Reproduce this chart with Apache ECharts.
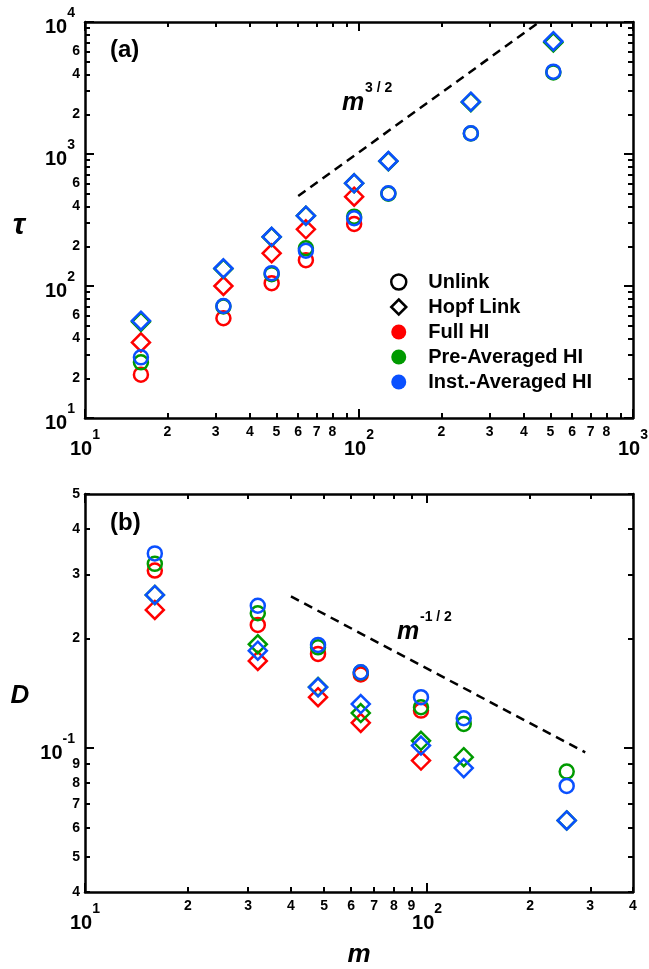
<!DOCTYPE html>
<html><head><meta charset="utf-8">
<script src="https://cdn.jsdelivr.net/npm/echarts@6/dist/echarts.min.js"></script>
<style>html,body{margin:0;padding:0;background:#fff}#c{width:649px;height:969px}</style>
</head><body><div id="c"></div>
<script>
// ---------- data ----------
const mValues = [16, 32, 48, 64, 96, 128, 256, 512];
// panel (a): relaxation time tau
const tauFullUnlink = [21.3, 57, 105, 157, 295, null, null, null];
const tauFullHopf   = [37.4, 100, 177, 269, 475, null, null, null];
const tauPreUnlink  = [26.4, 70, 123, 193, 335, 500, 1430, 4150];
const tauPreHopf    = [53.5, 135, 235, 340, 600, 880, 2470, 7000];
const tauInstUnlink = [28.8, 70.5, 125, 185, 326, 504, 1435, 4205];
const tauInstHopf   = [54.6, 136, 236, 341, 600, 885, 2490, 7150];
// panel (b): diffusion D
const dFullUnlink = [0.3076, 0.2178, 0.1812, 0.159, 0.1265, null, null, null];
const dFullHopf   = [0.2395, 0.1734, 0.1377, 0.117, 0.0921, null, null, null];
const dPreUnlink  = [0.321, 0.2346, 0.189, 0.161, 0.1292, 0.1162, 0.0859, null];
const dPreHopf    = [0.2635, 0.1927, 0.147, 0.1245, 0.1044, 0.0941, 0.063, null];
const dInstUnlink = [0.343, 0.246, 0.1919, 0.1613, 0.1377, 0.1205, 0.0784, null];
const dInstHopf   = [0.2635, 0.185, 0.1466, 0.1318, 0.1013, 0.0878, 0.063, null];
// guide lines (scaling laws)
const slopeA_m = [60, 455], slopeA_tau = [480, 9990];
const slopeB_m = [40, 290], slopeB_D = [0.261, 0.097];
// axis ranges and ticks (raw values)
const xA_range = [10, 1000], xA_major = [10, 100, 1000];
const xA_minor = [20,30,40,50,60,70,80,90,200,300,400,500,600,700,800,900];
const xA_labels = [20,30,40,50,60,70,80,200,300,400,500,600,700,800];
const yA_range = [10, 10000], yA_major = [10, 100, 1000, 10000];
const yA_minor = [20,30,40,50,60,70,80,90,200,300,400,500,600,700,800,900,2000,3000,4000,5000,6000,7000,8000,9000];
const yA_labels = [20,40,60,200,400,600,2000,4000,6000];
const xB_range = [10, 400], xB_major = [10, 100];
const xB_minor = [20,30,40,50,60,70,80,90,200,300,400];
const xB_labels = [20,30,40,50,60,70,80,90,200,300,400];
const yB_range = [0.04, 0.5], yB_major = [0.1];
const yB_minor = [0.04,0.05,0.06,0.07,0.08,0.09,0.2,0.3,0.4,0.5];
const yB_labels = [0.04,0.05,0.06,0.07,0.08,0.09,0.2,0.3,0.4,0.5];
const legendNames = ['Unlink', 'Hopf Link', 'Full HI', 'Pre-Averaged HI', 'Inst.-Averaged HI'];

// ---------- helpers ----------
const L = Math.log10;
const FONT = "'Liberation Sans', Arial, sans-serif";
const RED = '#ff0000', GREEN = '#009a00', BLUE = '#0a50ff';
function minorFmt(v){ const e = Math.floor(v + 1e-9); return String(Math.round(Math.pow(10, v - e))); }
function majorFmt(v){ return '{b|10}{s|' + Math.round(v) + '}'; }

function makeAxes(isX, grid, range, majors, minors, labels, extra) {
  const main = isX ? 'bottom' : 'left', opp = isX ? 'top' : 'right';
  const base = {type:'value', gridIndex:grid, min:L(range[0]), max:L(range[1]), splitLine:{show:false}};
  const line = {show:true, onZero:false, lineStyle:{color:'#000', width:2.5}};
  const noLine = {show:false, onZero:false};
  const tMinor = {show:true, inside:true, length:5, lineStyle:{color:'#000', width:2}, customValues: minors.map(L)};
  const tMajor = {show:true, inside:true, length:9, lineStyle:{color:'#000', width:2}, customValues: majors.map(L)};
  const rich = {
    b:{fontSize:20, fontWeight:'bold', fontFamily:FONT, color:'#000', lineHeight:31, verticalAlign:'bottom'},
    s:{fontSize:14, fontWeight:'bold', fontFamily:FONT, color:'#000', lineHeight:14, verticalAlign:'top'}
  };
  const a0 = Object.assign({}, base, {position:main, axisLine:line, axisTick:tMinor,
    axisLabel:{show:true, customValues:labels.map(L), formatter:minorFmt, margin:isX?7:5, fontSize:14, fontWeight:'bold', color:'#000', fontFamily:FONT, hideOverlap:false}}, extra || {});
  const a1 = Object.assign({}, base, {position:main, axisLine:noLine, axisTick:tMajor,
    axisLabel:{show:true, customValues:majors.map(L), formatter:majorFmt, margin:10, rich:rich, color:'#000', fontFamily:FONT, hideOverlap:false}});
  const a2 = Object.assign({}, base, {position:opp, axisLine:line, axisTick:tMinor, axisLabel:{show:false}});
  const a3 = Object.assign({}, base, {position:opp, axisLine:noLine, axisTick:tMajor, axisLabel:{show:false}});
  return [a0, a1, a2, a3];
}

function pts(xs, ys){ const out = []; for (let i=0;i<xs.length;i++){ if (ys[i] != null) out.push([L(xs[i]), L(ys[i])]); } return out; }
function sc(name, grid, ys, color, shape){
  return {type:'scatter', name:name, xAxisIndex:grid*4, yAxisIndex:grid*4, data:pts(mValues, ys),
    symbol:shape, symbolSize: shape === 'diamond' ? [18,18] : 14,
    itemStyle:{color:'transparent', borderColor:color, borderWidth:2.5, opacity:1}, silent:true, z:3};
}
function guide(grid, xs, ys){
  return {type:'line', xAxisIndex:grid*4, yAxisIndex:grid*4, data:pts(xs, ys), symbol:'none', silent:true,
    lineStyle:{color:'#000', width:2.5, type:[9,6]}, z:2};
}

const nameStyle = {fontSize:26, fontWeight:'bold', fontStyle:'italic', fontFamily:FONT, color:'#000'};
const xAxes = makeAxes(true, 0, xA_range, xA_major, xA_minor, xA_labels)
  .concat(makeAxes(true, 1, xB_range, xB_major, xB_minor, xB_labels,
    {name:'m', nameLocation:'middle', nameGap:50, nameTextStyle:nameStyle}));
const yAxes = makeAxes(false, 0, yA_range, yA_major, yA_minor, yA_labels)
  .concat(makeAxes(false, 1, yB_range, yB_major, yB_minor, yB_labels));

const series = [
  guide(0, slopeA_m, slopeA_tau),
  sc('Full HI unlink', 0, tauFullUnlink, RED, 'circle'),
  sc('Full HI hopf', 0, tauFullHopf, RED, 'diamond'),
  sc('Pre unlink', 0, tauPreUnlink, GREEN, 'circle'),
  sc('Pre hopf', 0, tauPreHopf, GREEN, 'diamond'),
  sc('Inst unlink', 0, tauInstUnlink, BLUE, 'circle'),
  sc('Inst hopf', 0, tauInstHopf, BLUE, 'diamond'),
  guide(1, slopeB_m, slopeB_D),
  sc('Full HI unlink b', 1, dFullUnlink, RED, 'circle'),
  sc('Full HI hopf b', 1, dFullHopf, RED, 'diamond'),
  sc('Pre unlink b', 1, dPreUnlink, GREEN, 'circle'),
  sc('Pre hopf b', 1, dPreHopf, GREEN, 'diamond'),
  sc('Inst unlink b', 1, dInstUnlink, BLUE, 'circle'),
  sc('Inst hopf b', 1, dInstHopf, BLUE, 'diamond')
];
legendNames.forEach(n => series.push({type:'scatter', name:n, xAxisIndex:0, yAxisIndex:0, data:[]}));

const legendStyles = [
  {icon:'circle', itemStyle:{color:'transparent', borderColor:'#000', borderWidth:2.5, opacity:1}},
  {icon:'diamond', itemStyle:{color:'transparent', borderColor:'#000', borderWidth:2.5, opacity:1}},
  {icon:'circle', itemStyle:{color:RED, borderWidth:0, opacity:1}},
  {icon:'circle', itemStyle:{color:GREEN, borderWidth:0, opacity:1}},
  {icon:'circle', itemStyle:{color:BLUE, borderWidth:0, opacity:1}}
];

const chart = echarts.init(document.getElementById('c'), null, {renderer:'canvas'});
chart.setOption({
  animation:false,
  backgroundColor:'#fff',
  grid:[
    {left:85, top:22, width:548, height:396, containLabel:false, outerBoundsMode:'none'},
    {left:85, top:494, width:548, height:398, containLabel:false, outerBoundsMode:'none'}
  ],
  xAxis:xAxes,
  yAxis:yAxes,
  legend:{
    orient:'vertical', left:385, top:267, itemWidth:15, itemHeight:15, itemGap:5,
    selectedMode:false,
    textStyle:{fontSize:20, lineHeight:20, fontWeight:'bold', fontFamily:FONT, color:'#000', padding:[0,0,0,17]},
    data: legendNames.map((n,i) => Object.assign({name:n}, legendStyles[i]))
  },
  graphic:[
    {type:'text', x:19, y:226, style:{text:'τ', font:"italic bold 30px 'Liberation Sans', Arial", fill:'#000', align:'center', verticalAlign:'middle'}},
    {type:'text', x:20, y:696, style:{text:'D', font:"italic bold 26px 'Liberation Sans', Arial", fill:'#000', align:'center', verticalAlign:'middle'}},
    {type:'text', x:110, y:50, style:{text:'(a)', font:"bold 24px 'Liberation Sans', Arial", fill:'#000', verticalAlign:'middle'}},
    {type:'text', x:110, y:523, style:{text:'(b)', font:"bold 24px 'Liberation Sans', Arial", fill:'#000', verticalAlign:'middle'}},
    {type:'text', x:342, y:103, style:{text:'m', font:"italic bold 25px 'Liberation Sans', Arial", fill:'#000', verticalAlign:'middle'}},
    {type:'text', x:365, y:88, style:{text:'3 / 2', font:"bold 14px 'Liberation Sans', Arial", fill:'#000', verticalAlign:'middle'}},
    {type:'text', x:397, y:632, style:{text:'m', font:"italic bold 25px 'Liberation Sans', Arial", fill:'#000', verticalAlign:'middle'}},
    {type:'text', x:420, y:617, style:{text:'-1 / 2', font:"bold 14px 'Liberation Sans', Arial", fill:'#000', verticalAlign:'middle'}}
  ],
  series:series
});
</script>
</body></html>
